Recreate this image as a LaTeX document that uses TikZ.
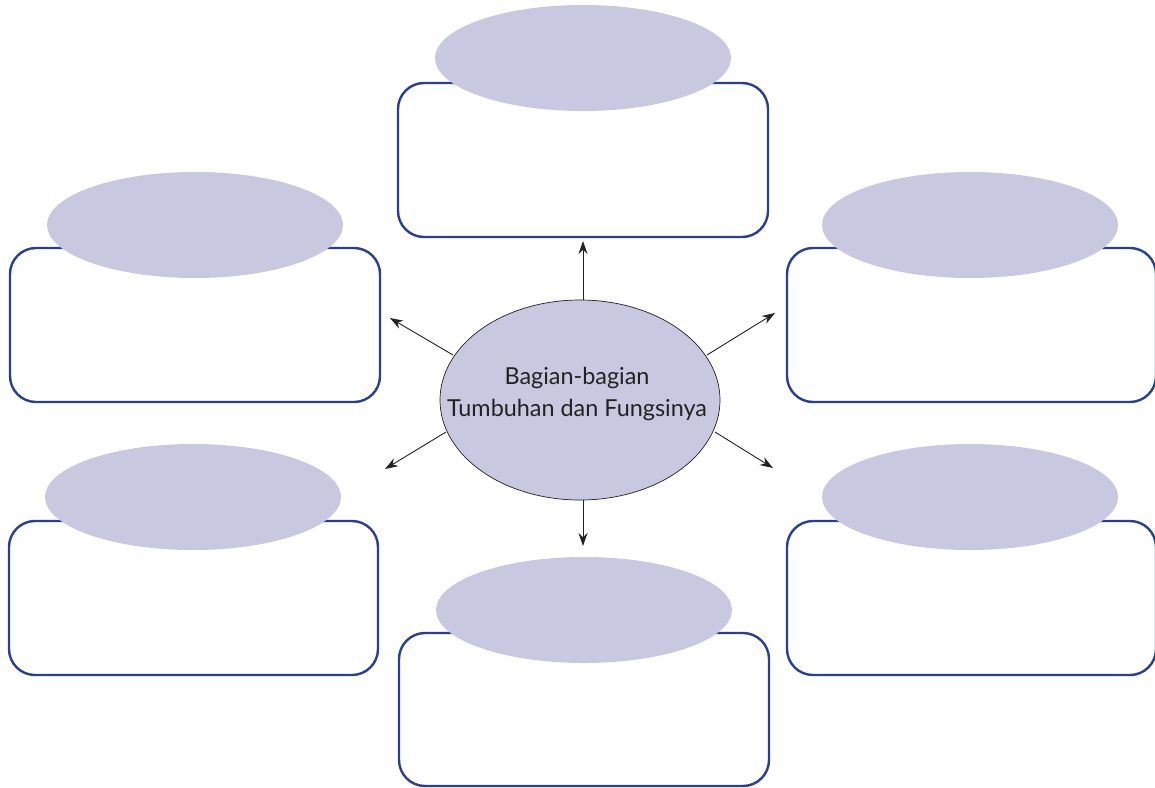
\documentclass[tikz,border=0pt]{standalone}
\usepackage{fontspec}
\setmainfont{Lato}
\usetikzlibrary{arrows.meta}
\definecolor{lav}{HTML}{C8C9E0}
\definecolor{navy}{HTML}{2B3F8F}
\definecolor{ink}{HTML}{222222}
\tikzset{
  box/.style={draw=navy, line width=2.4pt, rounded corners=26pt, fill=white},
  conn/.style={draw=ink, line width=0.9pt, -{Stealth[length=13pt,width=9pt]}},
}
\begin{document}
\begin{tikzpicture}[x=1pt,y=-1pt]
\useasboundingbox (0,0) rectangle (1155,787);
% boxes
\draw[box] (398,83) rectangle (768,237);
\fill[lav] (583,58) ellipse [x radius=148, y radius=53];
\draw[box] (10,248) rectangle (380,402);
\fill[lav] (195,225) ellipse [x radius=148, y radius=53];
\draw[box] (787,248) rectangle (1156,402);
\fill[lav] (970,225) ellipse [x radius=148, y radius=53];
\draw[box] (9,521) rectangle (378,675);
\fill[lav] (193,497) ellipse [x radius=148, y radius=53];
\draw[box] (787,521) rectangle (1156,675);
\fill[lav] (970,497) ellipse [x radius=148, y radius=53];
\draw[box] (399,633) rectangle (769,786);
\fill[lav] (584,610) ellipse [x radius=148, y radius=53];
% center
\draw[fill=lav, draw=ink, line width=0.7pt] (580,400) ellipse [x radius=140, y radius=100];
\node[font=\fontsize{23.4}{32}\selectfont, text=ink, align=center, inner sep=0pt] (c) at (577,394) {Bagian-bagian\\Tumbuhan dan Fungsinya};
% arrows
\coordinate (t0) at (583,300); \coordinate (t1) at (583,241);
\coordinate (b0) at (583,500); \coordinate (b1) at (583,546);
\coordinate (ul0) at (453,355); \coordinate (ul1) at (390,318);
\coordinate (ur0) at (707,355); \coordinate (ur1) at (775,313);
\coordinate (ll0) at (446,432); \coordinate (ll1) at (385,469);
\coordinate (lr0) at (715,432); \coordinate (lr1) at (773,468);
\draw[conn] (t0) -- (t1);
\draw[conn] (b0) -- (b1);
\draw[conn] (ul0) -- (ul1);
\draw[conn] (ur0) -- (ur1);
\draw[conn] (ll0) -- (ll1);
\draw[conn] (lr0) -- (lr1);
\end{tikzpicture}
\end{document}
